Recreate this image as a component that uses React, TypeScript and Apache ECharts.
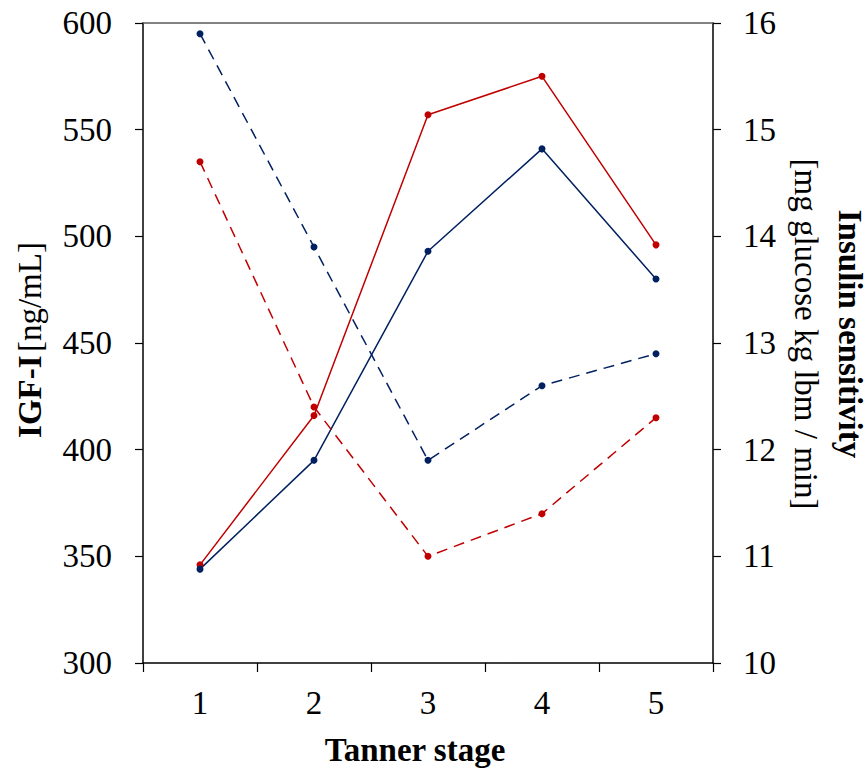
import React, { useEffect, useRef } from "react";
import * as echarts from "echarts";

const stages = ["1", "2", "3", "4", "5"];
const igfRed = [346, 416, 557, 575, 496];
const igfBlue = [344, 395, 493, 541, 480];
const insRed = [14.7, 12.4, 11.0, 11.4, 12.3];
const insBlue = [15.9, 13.9, 11.9, 12.6, 12.9];

const RED = "#C00000";
const BLUE = "#002060";
const FONT = "Liberation Serif";
const FS = 33;

export default function App() {
  const ref = useRef<HTMLDivElement>(null);
  useEffect(() => {
    if (!ref.current) return;
    const chart = echarts.init(ref.current, undefined, { renderer: "svg" });
    const lineSeries = (name: string, data: number[], color: string, yIdx: number, dashed: boolean) => ({
      name,
      type: "line",
      data,
      yAxisIndex: yIdx,
      symbol: "circle",
      symbolSize: 7,
      itemStyle: { color },
      lineStyle: { color, width: 1.5, type: dashed ? [11, 7] : "solid" },
    });
    chart.setOption({
      animation: false,
      textStyle: { fontFamily: FONT },
      grid: { left: 143, right: 155, top: 23, bottom: 106, containLabel: false },
      xAxis: [
        {
          type: "category",
          data: stages,
          boundaryGap: true,
          axisLine: { lineStyle: { color: "#000", width: 1.5 } },
          axisTick: { show: true, interval: 0, length: 9, inside: false, lineStyle: { color: "#000", width: 1.2 } },
          axisLabel: { fontSize: FS, color: "#000", fontFamily: FONT, margin: 23 },
        },
        {
          type: "category",
          data: stages,
          position: "top",
          axisLine: { lineStyle: { color: "#595959", width: 1.5 } },
          axisTick: { show: false },
          axisLabel: { show: false },
        },
      ],
      yAxis: [
        {
          type: "value",
          min: 300,
          max: 600,
          interval: 50,
          position: "left",
          splitLine: { show: false },
          axisLine: { show: true, lineStyle: { color: "#000", width: 1.5 } },
          axisTick: { show: true, length: 8, lineStyle: { color: "#000", width: 1.2 } },
          axisLabel: { fontSize: FS, color: "#000", fontFamily: FONT, margin: 31 },
        },
        {
          type: "value",
          min: 10,
          max: 16,
          interval: 1,
          position: "right",
          splitLine: { show: false },
          axisLine: { show: true, lineStyle: { color: "#000", width: 1.5 } },
          axisTick: { show: true, length: 8, lineStyle: { color: "#000", width: 1.2 } },
          axisLabel: { fontSize: FS, color: "#000", fontFamily: FONT, margin: 30 },
        },
      ],
      graphic: [
        {
          type: "text",
          x: 30,
          y: 340,
          rotation: Math.PI / 2,
          style: {
            text: "{b|IGF-I} {n|[ng/mL]}",
            align: "center",
            verticalAlign: "middle",
            rich: {
              b: { fontFamily: FONT, fontSize: FS, fontWeight: "bold", fill: "#000" },
              n: { fontFamily: FONT, fontSize: FS, fill: "#000" },
            },
          },
        },
        {
          type: "text",
          x: 850,
          y: 334,
          rotation: -Math.PI / 2,
          style: {
            text: "Insulin sensitivity",
            align: "center",
            verticalAlign: "middle",
            fontFamily: FONT,
            fontSize: FS,
            fontWeight: "bold",
            fill: "#000",
          },
        },
        {
          type: "text",
          x: 806,
          y: 334,
          rotation: -Math.PI / 2,
          style: {
            text: "[mg glucose kg lbm / min]",
            align: "center",
            verticalAlign: "middle",
            fontFamily: FONT,
            fontSize: FS,
            fill: "#000",
          },
        },
        {
          type: "text",
          x: 415,
          y: 750,
          style: {
            text: "Tanner stage",
            align: "center",
            verticalAlign: "middle",
            fontFamily: FONT,
            fontSize: FS,
            fontWeight: "bold",
            fill: "#000",
          },
        },
      ],
      series: [
        lineSeries("IGF-I red", igfRed, RED, 0, false),
        lineSeries("IGF-I blue", igfBlue, BLUE, 0, false),
        lineSeries("Insulin sensitivity red", insRed, RED, 1, true),
        lineSeries("Insulin sensitivity blue", insBlue, BLUE, 1, true),
      ],
    });
    return () => chart.dispose();
  }, []);
  return (
    <div
      ref={ref}
      style={{ position: "absolute", left: 0, top: 0, width: 868, height: 769, background: "#fff" }}
    />
  );
}
